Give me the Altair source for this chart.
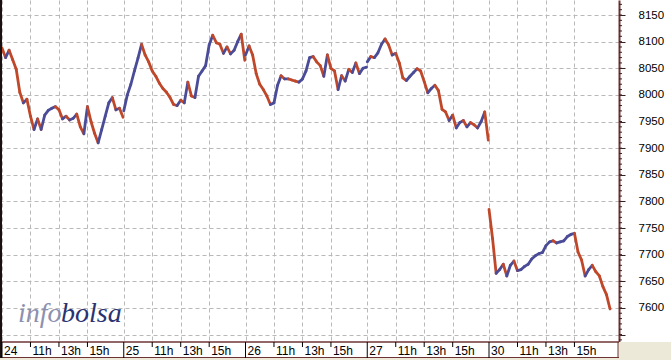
import altair as alt
import pandas as pd

# ---------------- data ----------------
DAYS = ["24", "25", "26", "27", "30"]
SLOT_TIMES = ["09:00", "09:15", "09:30", "09:45", "10:00", "10:15", "10:30", "10:45",
              "11:00", "11:15", "11:30", "11:45", "12:00", "12:15", "12:30", "12:45",
              "13:00", "13:15", "13:30", "13:45", "14:00", "14:15", "14:30", "14:45",
              "15:00", "15:15", "15:30", "15:45", "16:00", "16:15", "16:30", "16:45",
              "17:00", "17:15", "17:30"]

DAY24 = [8088, 8070, 8084, 8066, 8048, 8005, 7985, 7992, 7960, 7935, 7955, 7935, 7962, 7971,
         7975, 7978, 7972, 7955, 7960, 7953, 7956, 7964, 7940, 7927, 7978, 7950, 7928, 7910,
         7935, 7960, 7985, 7995, 7972, 7975, 7958]
DAY25 = [7970, 8000, 8020, 8045, 8069, 8095, 8075, 8062, 8045, 8035, 8022, 8012, 8005, 7995,
         7982, 7980, 7990, 7985, 8024, 7998, 7995, 8035, 8045, 8055, 8094, 8112, 8098, 8095,
         8078, 8090, 8077, 8084, 8100, 8114, 8065]
DAY26 = [8075, 8092, 8075, 8040, 8020, 8010, 7998, 7982, 7985, 8018, 8036, 8030, 8030, 8028,
         8026, 8024, 8030, 8045, 8070, 8072, 8062, 8055, 8035, 8075, 8050, 8045, 8010, 8036,
         8026, 8048, 8042, 8060, 8040, 8050, 8052]
DAY27 = [8062, 8072, 8070, 8079, 8095, 8105, 8094, 8075, 8078, 8060, 8032, 8027, 8035, 8042,
         8049, 8045, 8025, 8004, 8012, 8018, 8008, 7973, 7968, 7952, 7962, 7938, 7948, 7952,
         7940, 7948, 7944, 7938, 7950, 7968, 7915]
DAY30 = [7785, 7730, 7665, 7672, 7682, 7660, 7680, 7688, 7670, 7672, 7678, 7682, 7692, 7698,
         7702, 7704, 7717, 7724, 7726, 7722, 7724, 7726, 7734, 7738, 7740, 7705, 7690, 7660,
         7672, 7680, 7668, 7660, 7640, 7625, 7598]
SERIES = [DAY24, DAY25, DAY26, DAY27, DAY30]

HOUR_LABELS = ["11h", "13h", "15h"]
Y_TICKS = [7550, 7600, 7650, 7700, 7750, 7800, 7850, 7900, 7950, 8000, 8050, 8100, 8150]
Y_MINOR = list(range(7540, 8180, 10))

DAY_SPAN = 8.55  # session length on the axis, hours

# ---------------- build tables ----------------
rows = []
for k, (day, vals) in enumerate(zip(DAYS, SERIES)):
    prev_u, prev_v = None, None
    for t, v in zip(SLOT_TIMES, vals):
        hh, mm = t.split(":")
        u = k * DAY_SPAN + int(hh) + int(mm) / 60 - 9
        if prev_v is not None:
            rows.append({"day": day, "time": t, "u0": prev_u, "u": u, "v0": prev_v, "v": v,
                         "dir": "up" if v >= prev_v else "down"})
        prev_u, prev_v = u, v
price = pd.DataFrame(rows)

ticks = []
for k, day in enumerate(DAYS):
    ticks.append({"u": k * DAY_SPAN, "label": day, "kind": "day"})
    for j, h in enumerate(HOUR_LABELS):
        ticks.append({"u": k * DAY_SPAN + 2 * (j + 1), "label": h, "kind": "hour"})
ticks_df = pd.DataFrame(ticks)
tick_u = [t["u"] for t in ticks]

minor_df = pd.DataFrame({"y": Y_MINOR})

W, H = 619, 342
xs = alt.Scale(domain=[-2 / 14.24, (W - 2) / 14.24], nice=False, zero=False)
ys = alt.Scale(domain=[7536, 8178.2], nice=False, zero=False)

one = alt.Data(values=[{"a": 1}])

# grid + price
price_layer = alt.Chart(price).mark_rule(strokeWidth=2.8, strokeCap="round").encode(
    x=alt.X("u0:Q", scale=xs,
            axis=alt.Axis(values=tick_u, grid=True, labels=False, ticks=False, domain=False,
                          title=None, gridDash=[4, 3], gridColor="#b9b9b9", gridWidth=1)),
    x2="u:Q",
    y=alt.Y("v0:Q", scale=ys,
            axis=alt.Axis(orient="right", values=Y_TICKS, title=None,
                          labelExpr="datum.value >= 7600 ? datum.value : ''",
                          grid=True, gridDash=[4, 3], gridColor="#b9b9b9", gridWidth=1,
                          domainColor="#6e3434", domainWidth=2, tickColor="#3a2020",
                          tickSize=6, tickWidth=1, labelPadding=13, labelFontSize=11.5,
                          labelFont="Liberation Sans", labelColor="#000000",
                          labelBound=False, labelOverlap=False, labelFlush=False)),
    y2="v:Q",
    color=alt.Color("dir:N", scale=alt.Scale(domain=["up", "down"],
                                             range=["#4b4c98", "#c0482a"]), legend=None),
)

minor = alt.Chart(minor_df).mark_rule(color="#3a2020", strokeWidth=1).encode(
    y=alt.Y("y:Q", scale=ys, axis=None),
    x=alt.value(W), x2=alt.value(W + 3),
)

# bottom label band
corner = alt.Chart(one).mark_rect(color="#ece9d8").encode(
    x=alt.value(W - 1), x2=alt.value(671), y=alt.value(H), y2=alt.value(360))
under = alt.Chart(one).mark_rect(color="#ece9d8").encode(
    x=alt.value(0), x2=alt.value(671), y=alt.value(358), y2=alt.value(360))
band_top = alt.Chart(one).mark_rule(color="#6e3434", strokeWidth=1.5).encode(
    x=alt.value(0), x2=alt.value(W), y=alt.value(H))
band_bot = alt.Chart(one).mark_rule(color="#6e3434", strokeWidth=1).encode(
    x=alt.value(0), x2=alt.value(W), y=alt.value(357.5))
band_right = alt.Chart(one).mark_rule(color="#6e3434", strokeWidth=1).encode(
    x=alt.value(W - 1), y=alt.value(H), y2=alt.value(358))
left_edge = alt.Chart(one).mark_rule(color="#1a1010", strokeWidth=2).encode(
    x=alt.value(1), y=alt.value(0), y2=alt.value(358))

day_ticks = alt.Chart(ticks_df).transform_filter("datum.kind == 'day'").mark_rule(
    color="#000000", strokeWidth=1).encode(
    x=alt.X("u:Q", scale=xs, axis=None), y=alt.value(H), y2=alt.value(358))
hour_ticks = alt.Chart(ticks_df).transform_filter("datum.kind == 'hour'").mark_rule(
    color="#000000", strokeWidth=1).encode(
    x=alt.X("u:Q", scale=xs, axis=None), y=alt.value(H), y2=alt.value(H + 5))
tick_text = alt.Chart(ticks_df).mark_text(
    align="left", baseline="middle", dx=2, fontSize=12, font="Liberation Sans",
    color="#000000").encode(
    x=alt.X("u:Q", scale=xs, axis=None), y=alt.value(350.5), text="label:N")

# watermark
wm_info = alt.Chart(one).mark_text(
    text="info", align="left", baseline="alphabetic", font="Liberation Serif",
    fontStyle="italic", fontSize=28, color="#8d90b0").encode(
    x=alt.value(18), y=alt.value(322))
wm_bolsa = alt.Chart(one).mark_text(
    text="bolsa", align="left", baseline="alphabetic", font="Liberation Serif",
    fontStyle="italic", fontSize=28, color="#2a3272").encode(
    x=alt.value(61), y=alt.value(322))

chart = alt.layer(
    price_layer, minor, wm_info, wm_bolsa, corner, under,
    band_top, band_bot, band_right, left_edge, day_ticks, hour_ticks, tick_text,
).resolve_axis(x="independent", y="independent").properties(
    width=W, height=H,
    autosize=alt.AutoSizeParams(type="none"),
    padding={"left": 0, "top": 0, "right": 671 - W, "bottom": 360 - H},
    background="#ffffff",
).configure_view(stroke=None)

chart.save("out.html", embed_options={"renderer": "svg", "actions": False})
